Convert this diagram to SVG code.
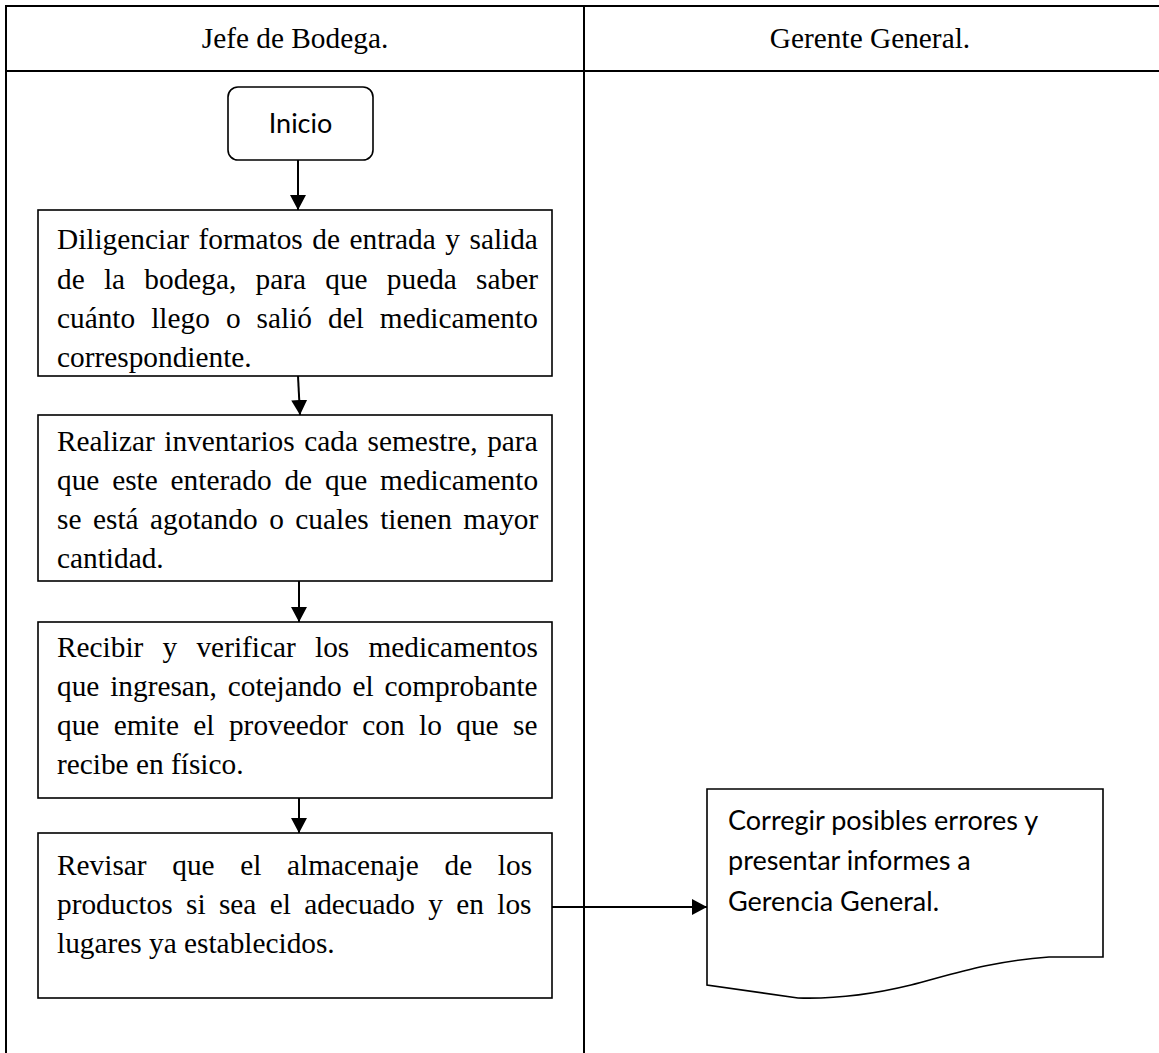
<svg xmlns="http://www.w3.org/2000/svg" width="1159" height="1053" viewBox="0 0 1159 1053">
<style>
.grid{stroke:#000;stroke-width:2;fill:none}
.box{stroke:#000;stroke-width:1.6;fill:#fff}
.hdr{font-family:"Liberation Serif","Times New Roman",serif;font-size:29.33px;fill:#000;text-anchor:middle}
.t{font-family:"Liberation Serif","Times New Roman",serif;font-size:29.33px;fill:#000}
.c{font-family:Lato,"Open Sans",sans-serif;font-size:27px;fill:#000}
.conn{stroke:#000;stroke-width:2;fill:none}
</style>
<defs>
<marker id="ah" markerUnits="userSpaceOnUse" markerWidth="15" markerHeight="16" refX="15" refY="8" orient="auto">
<path d="M0,0 L15,8 L0,16 Z" fill="#000"/>
</marker>
</defs>
<rect width="1159" height="1053" fill="#fff"/>
<g id="table">
<path class="grid" d="M6,1053 V6 H1159 M6,71 H1159 M584,6 V1053"/>
<text class="hdr" x="295" y="48">Jefe de Bodega.</text>
<text class="hdr" x="870" y="48">Gerente General.</text>
</g>
<g id="inicio">
<rect class="box" x="228" y="87" width="145" height="73" rx="10"/>
<text class="c" x="300.5" y="133" text-anchor="middle">Inicio</text>
</g>
<g id="paso1">
<rect class="box" x="38" y="210" width="514" height="166"/>
<text class="t" x="57" y="249" word-spacing="2.2">Diligenciar formatos de entrada y salida</text>
<text class="t" x="57" y="289" word-spacing="11.9">de la bodega, para que pueda saber</text>
<text class="t" x="57" y="328" word-spacing="8.7">cuánto llego o salió del medicamento</text>
<text class="t" x="57" y="367">correspondiente.</text>
</g>
<g id="paso2">
<rect class="box" x="38" y="415" width="514" height="166"/>
<text class="t" x="57" y="451" word-spacing="2.3">Realizar inventarios cada semestre, para</text>
<text class="t" x="57" y="490" word-spacing="5.5">que este enterado de que medicamento</text>
<text class="t" x="57" y="529" word-spacing="4.2">se está agotando o cuales tienen mayor</text>
<text class="t" x="57" y="568">cantidad.</text>
</g>
<g id="paso3">
<rect class="box" x="38" y="622" width="514" height="176"/>
<text class="t" x="57" y="657" word-spacing="11.9">Recibir y verificar los medicamentos</text>
<text class="t" x="57" y="696" word-spacing="3.5">que ingresan, cotejando el comprobante</text>
<text class="t" x="57" y="735" word-spacing="7.1">que emite el proveedor con lo que se</text>
<text class="t" x="57" y="774">recibe en físico.</text>
</g>
<g id="paso4">
<rect class="box" x="38" y="833" width="514" height="165"/>
<text class="t" x="57" y="875" word-spacing="18.3">Revisar que el almacenaje de los</text>
<text class="t" x="57" y="914" word-spacing="6">productos si sea el adecuado y en los</text>
<text class="t" x="57" y="953">lugares ya establecidos.</text>
</g>
<g id="informe">
<path class="box" d="M707,789 H1103 V957 H1049 C990,961 950,975 911,985 C870,995 830,999 798,998 L707,985 Z"/>
<text class="c" x="728" y="830">Corregir posibles errores y</text>
<text class="c" x="728" y="870">presentar informes a</text>
<text class="c" x="728" y="911">Gerencia General.</text>
</g>
<g id="connectors">
<line class="conn" x1="298" y1="160" x2="298" y2="210" marker-end="url(#ah)"/>
<line class="conn" x1="298" y1="376" x2="300" y2="415" marker-end="url(#ah)"/>
<line class="conn" x1="299" y1="581" x2="299" y2="622" marker-end="url(#ah)"/>
<line class="conn" x1="299" y1="798" x2="299" y2="833" marker-end="url(#ah)"/>
<line class="conn" x1="552" y1="907" x2="707" y2="907" marker-end="url(#ah)"/>
</g>
</svg>
